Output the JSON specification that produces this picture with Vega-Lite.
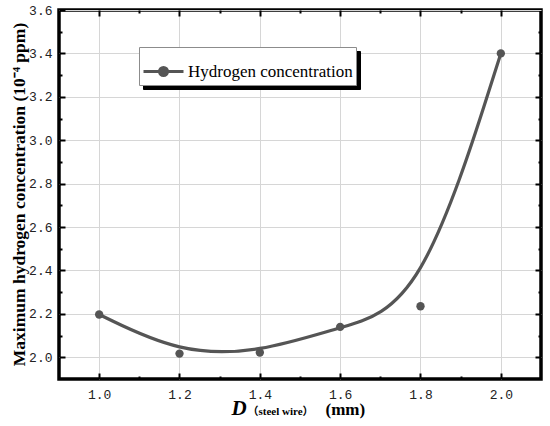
{
  "$schema": "https://vega.github.io/schema/vega-lite/v6.json",
  "width": 482,
  "height": 369,
  "autosize": {"type": "none"},
  "padding": {"left": 59, "top": 10, "right": 9, "bottom": 47},
  "background": "white",
  "data": {
    "values": [
      {"D": 1.0, "H": 2.197, "series": "Hydrogen concentration", "shadow": "Hydrogen concentration"},
      {"D": 1.2, "H": 2.017, "series": "Hydrogen concentration", "shadow": "Hydrogen concentration"},
      {"D": 1.4, "H": 2.022, "series": "Hydrogen concentration", "shadow": "Hydrogen concentration"},
      {"D": 1.6, "H": 2.14, "series": "Hydrogen concentration", "shadow": "Hydrogen concentration"},
      {"D": 1.8, "H": 2.235, "series": "Hydrogen concentration", "shadow": "Hydrogen concentration"},
      {"D": 2.0, "H": 3.4, "series": "Hydrogen concentration", "shadow": "Hydrogen concentration"}
    ]
  },
  "resolve": {"axis": {"x": "independent", "y": "independent"}},
  "layer": [
    {
      "mark": {"type": "point", "opacity": 0},
      "encoding": {
        "x": {"field": "D", "type": "quantitative", "scale": {"domain": [0.9, 2.1], "nice": false, "zero": false}, "axis": null},
        "y": {"field": "H", "type": "quantitative", "scale": {"domain": [1.9, 3.6], "nice": false, "zero": false}, "axis": null},
        "color": {
          "field": "shadow",
          "type": "nominal",
          "scale": {"range": ["black"]},
          "legend": {
            "title": null,
            "orient": "none",
            "legendX": 84,
            "legendY": 41,
            "padding": 3,
            "fillColor": "black",
            "strokeColor": "black",
            "labelColor": "black",
            "labelFont": "Liberation Serif",
            "labelFontSize": 17,
            "labelLimit": 400,
            "labelOffset": 3,
            "labelExpr": "datum.label + '   '",
            "symbolType": "M-1,0L1,0M-0.2,0A0.2,0.2,0,1,1,0.2,0A0.2,0.2,0,1,1,-0.2,0Z",
            "symbolSize": 1600,
            "symbolOpacity": 1,
            "symbolStrokeWidth": 3
          }
        }
      }
    },
    {
      "mark": {"type": "line", "interpolate": "basis", "strokeWidth": 3.2},
      "encoding": {
        "x": {
          "field": "D",
          "type": "quantitative",
          "scale": {"domain": [0.9, 2.1], "nice": false, "zero": false},
          "axis": {
            "orient": "bottom",
            "values": [1.0, 1.2, 1.4, 1.6, 1.8, 2.0],
            "format": ".1f",
            "tickSize": -6,
            "labelPadding": 15,
            "grid": true,
            "title": "D",
            "titleFontStyle": "italic",
            "titleFontSize": 21,
            "titleAlign": "left",
            "titleBaseline": "alphabetic",
            "titleX": 172,
            "titleY": 35
          }
        },
        "y": {
          "field": "H",
          "type": "quantitative",
          "scale": {"domain": [1.9, 3.6], "nice": false, "zero": false},
          "axis": {
            "orient": "left",
            "values": [2.0, 2.2, 2.4, 2.6, 2.8, 3.0, 3.2, 3.4, 3.6],
            "format": ".1f",
            "tickSize": -6,
            "labelPadding": 13,
            "grid": true,
            "title": "Maximum hydrogen concentration (10⁻⁴ ppm)",
            "titleFontSize": 17.5,
            "titleLimit": 420,
            "titleBaseline": "alphabetic",
            "titleAlign": "center",
            "titleX": -35,
            "titleY": 184
          }
        },
        "stroke": {
          "field": "series",
          "type": "nominal",
          "scale": {"range": ["#555555"]},
          "legend": {
            "title": null,
            "orient": "none",
            "legendX": 80,
            "legendY": 37,
            "padding": 3,
            "fillColor": "white",
            "strokeColor": "#8c8c8c",
            "labelColor": "black",
            "labelFont": "Liberation Serif",
            "labelFontSize": 17,
            "labelLimit": 400,
            "labelOffset": 3,
            "labelExpr": "datum.label + '   '",
            "symbolType": "M-1,0L1,0M-0.2,0A0.2,0.2,0,1,1,0.2,0A0.2,0.2,0,1,1,-0.2,0Z",
            "symbolSize": 1600,
            "symbolStrokeWidth": 3,
            "symbolFillColor": "#555555",
            "encode": {"symbols": {"update": {"fill": {"value": "#555555"}, "strokeWidth": {"value": 3}}}}
          }
        }
      }
    },
    {
      "mark": {"type": "circle", "size": 70, "color": "#555555", "opacity": 1},
      "encoding": {
        "x": {
          "field": "D",
          "type": "quantitative",
          "scale": {"domain": [0.9, 2.1], "nice": false, "zero": false},
          "axis": {
            "orient": "bottom",
            "values": [1.1, 1.3, 1.5, 1.7, 1.9],
            "tickSize": -3,
            "labels": false,
            "grid": false,
            "title": "（steel wire）",
            "titleFont": "Liberation Serif, Noto Sans CJK SC",
            "titleFontSize": 11,
            "titleAlign": "left",
            "titleBaseline": "alphabetic",
            "titleX": 188,
            "titleY": 35
          }
        },
        "y": {
          "field": "H",
          "type": "quantitative",
          "scale": {"domain": [1.9, 3.6], "nice": false, "zero": false},
          "axis": {
            "orient": "left",
            "values": [2.1, 2.3, 2.5, 2.7, 2.9, 3.1, 3.3, 3.5],
            "tickSize": -3,
            "labels": false,
            "grid": false,
            "title": null
          }
        }
      }
    },
    {
      "mark": {"type": "point", "opacity": 0},
      "encoding": {
        "x": {
          "field": "D",
          "type": "quantitative",
          "scale": {"domain": [0.9, 2.1], "nice": false, "zero": false},
          "axis": {"orient": "top", "values": [1.0, 1.2, 1.4, 1.6, 1.8, 2.0], "tickSize": -6, "labels": false, "grid": false, "title": null}
        },
        "y": {
          "field": "H",
          "type": "quantitative",
          "scale": {"domain": [1.9, 3.6], "nice": false, "zero": false},
          "axis": {"orient": "right", "values": [2.0, 2.2, 2.4, 2.6, 2.8, 3.0, 3.2, 3.4], "tickSize": -6, "labels": false, "grid": false, "title": null}
        }
      }
    },
    {
      "mark": {"type": "point", "opacity": 0},
      "encoding": {
        "x": {
          "field": "D",
          "type": "quantitative",
          "scale": {"domain": [0.9, 2.1], "nice": false, "zero": false},
          "axis": {"orient": "top", "values": [1.1, 1.3, 1.5, 1.7, 1.9], "tickSize": -3, "labels": false, "grid": false, "title": null}
        },
        "y": {
          "field": "H",
          "type": "quantitative",
          "scale": {"domain": [1.9, 3.6], "nice": false, "zero": false},
          "axis": {"orient": "right", "values": [2.1, 2.3, 2.5, 2.7, 2.9, 3.1, 3.3, 3.5], "tickSize": -3, "labels": false, "grid": false, "title": null}
        }
      }
    },
    {
      "mark": {"type": "point", "opacity": 0},
      "encoding": {
        "x": {
          "field": "D",
          "type": "quantitative",
          "scale": {"domain": [0.9, 2.1], "nice": false, "zero": false},
          "axis": {
            "orient": "bottom",
            "ticks": false,
            "labels": false,
            "grid": false,
            "title": "(mm)",
            "titleFontSize": 17,
            "titleAlign": "left",
            "titleBaseline": "alphabetic",
            "titleX": 266,
            "titleY": 35
          }
        },
        "y": {"field": "H", "type": "quantitative", "scale": {"domain": [1.9, 3.6], "nice": false, "zero": false}, "axis": null}
      }
    }
  ],
  "config": {
    "view": {"stroke": "black", "strokeWidth": 3.5},
    "axis": {
      "domain": false,
      "tickColor": "black",
      "tickWidth": 2,
      "labelFont": "Liberation Mono",
      "labelFontSize": 13,
      "labelColor": "#222222",
      "titleFont": "Liberation Serif",
      "titleFontWeight": "bold",
      "titleColor": "black",
      "gridColor": "#d6d6d6",
      "gridWidth": 1
    }
  }
}
